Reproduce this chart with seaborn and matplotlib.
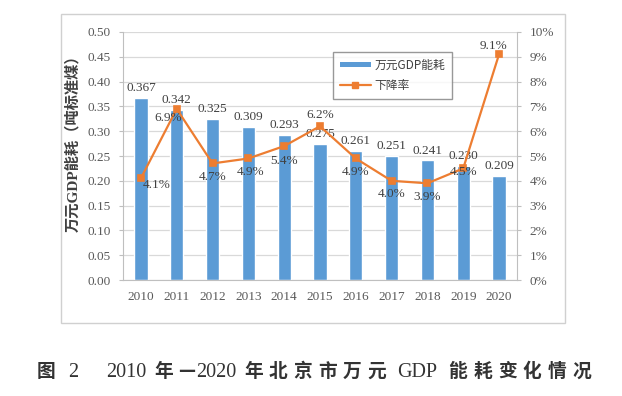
import numpy as np
import pandas as pd
import seaborn as sns
import matplotlib.pyplot as plt
from matplotlib.patches import Rectangle, Patch
from matplotlib.lines import Line2D

years = ['2010', '2011', '2012', '2013', '2014', '2015', '2016', '2017', '2018', '2019', '2020']
energy = [0.367, 0.342, 0.325, 0.309, 0.293, 0.275, 0.261, 0.251, 0.241, 0.230, 0.209]
rate = [4.1, 6.9, 4.7, 4.9, 5.4, 6.2, 4.9, 4.0, 3.9, 4.5, 9.1]

sns.set_style('white')
plt.rcParams['font.family'] = ['Liberation Serif', 'Noto Sans CJK SC', 'DejaVu Sans']

blue = '#5B9BD5'
orange = '#ED7D31'
grey = '#BFBFBF'
txt = '#404040'
cjk = ['Noto Sans CJK SC', 'DejaVu Sans']
serif = ['Liberation Serif', 'Noto Sans CJK SC']

df = pd.DataFrame({'year': years, 'energy': energy, 'rate': rate})

fig = plt.figure(figsize=(6.22, 3.96), dpi=100)
fig.patches.append(Rectangle((0.098, 0.184), 0.810, 0.780, transform=fig.transFigure,
                             fill=False, edgecolor='#D0D0D0', linewidth=1.0))
ax = fig.add_axes([0.1977, 0.2929, 0.6334, 0.6263])

# bars
sns.barplot(data=df, x='year', y='energy', color=blue, width=0.37, saturation=1, ax=ax, zorder=2)
ax.set_ylim(0, 0.5)
ax.set_yticks(np.arange(0, 0.501, 0.05))
ax.set_yticklabels([f'{v:.2f}' for v in np.arange(0, 0.501, 0.05)])
ax.yaxis.grid(True, color='#D9D9D9', linewidth=0.9)
ax.set_axisbelow(True)
ax.set_xlim(-0.5, len(years) - 0.5)
ax.set_xlabel('')
ax.set_ylabel('万元GDP能耗（吨标准煤）', fontsize=11, fontweight='bold', color=txt)
ax.yaxis.set_label_coords(-0.109, 0.565)
for s in ['top', 'right']:
    ax.spines[s].set_visible(False)
for s in ['left', 'bottom']:
    ax.spines[s].set_color(grey)
ax.set_xticks(np.arange(-0.5, len(years), 1), minor=True)
ax.tick_params(axis='x', which='major', length=0, labelsize=9.5, colors='#595959', pad=8)
ax.tick_params(axis='x', which='minor', length=4, color=grey)
ax.tick_params(axis='y', length=3, color=grey, labelsize=9.5, labelcolor='#595959', pad=6)

for i, v in enumerate(energy):
    ax.text(i, v + 0.008, f'{v:.3f}', ha='center', va='bottom', fontsize=9.5, color=txt)

# rate line on the right axis
ax2 = ax.twinx()
ax2.set_position(ax.get_position())
sns.pointplot(x=years, y=rate, ax=ax2, color=orange, markers='s', markersize=4,
              linewidth=1.6, native_scale=False)
ax2.set_ylim(0, 10)
ax2.set_yticks(range(0, 11))
ax2.set_yticklabels([f'{v}%' for v in range(0, 11)])
ax2.set_xlim(-0.5, len(years) - 0.5)
for s in ['top', 'left', 'bottom']:
    ax2.spines[s].set_visible(False)
ax2.spines['right'].set_color(grey)
ax2.tick_params(axis='y', length=3, color=grey, labelsize=9.5, labelcolor='#595959', pad=6)

offsets = [(0.45, -0.25), (-0.25, -0.35), (0.0, -0.55), (0.05, -0.55), (0.0, -0.6),
           (0.0, 0.45), (0.0, -0.55), (0.0, -0.55), (0.0, -0.55), (0.0, -0.15), (-0.15, 0.35)]
for i, (v, (dx, dy)) in enumerate(zip(rate, offsets)):
    ax2.text(i + dx, v + dy, f'{v:.1f}%', ha='center', va='center', fontsize=9.5, color=txt)

handles = [Patch(facecolor=blue, edgecolor='none'),
           Line2D([0], [0], color=orange, marker='s', markersize=4, linewidth=1.6)]
leg = ax2.legend(handles, ['万元GDP能耗', '下降率'], loc='upper left',
                 bbox_to_anchor=(0.518, 0.944), fancybox=False, frameon=True,
                 fontsize=8.5, handlelength=2.6, handleheight=0.35, borderpad=0.6,
                 labelspacing=0.6, handletextpad=0.3)
leg.get_frame().set_edgecolor('#7F7F7F')
leg.get_frame().set_linewidth(1.0)
for t in leg.get_texts():
    t.set_color(txt)
    t.set_family(cjk)

# caption: spaced-out bold CJK characters mixed with serif numbers
# (text, font kind, gap in pixels after it)
segs = [('图', 'c', 12), ('2', 's', 28), ('2010', 's', 8), ('年', 'c', 5), ('—', 'c', 1),
        ('2020', 's', 8), ('年', 'c', 6), ('北', 'c', 6), ('京', 'c', 6), ('市', 'c', 6),
        ('万', 'c', 6), ('元', 'c', 10), ('GDP', 's', 12), ('能', 'c', 6), ('耗', 'c', 6),
        ('变', 'c', 6), ('化', 'c', 6), ('情', 'c', 6), ('况', 'c', 0)]
renderer = fig.canvas.get_renderer()
x = 37
for s, kind, gap in segs:
    if kind == 'c':
        t = fig.text(x / 622, 0.048, s, ha='left', va='baseline', fontsize=13.5,
                     fontweight='bold', family=cjk, color='#333333')
    else:
        t = fig.text(x / 622, 0.048, s, ha='left', va='baseline', fontsize=14.5,
                     family=serif, color='#333333')
    bb = t.get_window_extent(renderer)
    x = bb.x1 + gap

fig.savefig('out.png', dpi=100)
